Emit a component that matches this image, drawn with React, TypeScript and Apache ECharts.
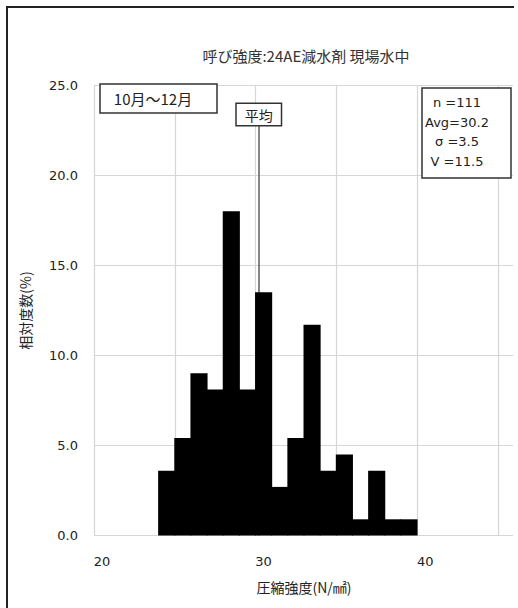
import React, { useEffect, useRef } from "react";
import * as echarts from "echarts";

// Histogram bins (compressive strength, N/mm2) and relative frequency (%)
const strengthBins = [
  "20", "21", "22", "23", "24", "25", "26", "27", "28", "29",
  "30", "31", "32", "33", "34", "35", "36", "37", "38", "39",
  "40", "41", "42", "43", "44", "45",
];
const relativeFreq = [
  null, null, null, null, 3.6, 5.41, 9.01, 8.11, 18.02, 8.11,
  13.51, 2.7, 5.41, 11.71, 3.6, 4.5, 0.9, 3.6, 0.9, 0.9,
  null, null, null, null, null, null,
];
const yMin = 0;
const yMax = 25;
const yStep = 5;

// statistics
const statN = 111;
const statAvg = 30.2;
const statSigma = 3.5;
const statV = 11.5;
const avgLineTop = 22.8;

const titleText = "呼び強度:24AE減水剤 現場水中";
const periodText = "10月〜12月";
const avgLabel = "平均";
const xName = "圧縮強度(N/㎟)";
const yName = "相対度数(%)";

const JP = "'Noto Sans CJK JP', sans-serif";
const NUM = "'DejaVu Sans', sans-serif";

export default function App() {
  const ref = useRef<HTMLDivElement>(null);
  useEffect(() => {
    if (!ref.current) return;
    const chart = echarts.init(ref.current, null, { renderer: "svg" });
    const statsText = [
      `n =${statN}`,
      `Avg=${statAvg.toFixed(1)}`,
      `σ =${statSigma.toFixed(1)}`,
      `V =${statV.toFixed(1)}`,
    ].join("\n");
    chart.setOption({
      animation: false,
      backgroundColor: "#fff",
      grid: { left: 94, right: 4, top: 85.5, bottom: 72.5 },
      xAxis: [
        {
          type: "category",
          data: strengthBins,
          boundaryGap: true,
          axisLine: { show: false },
          axisTick: { show: false },
          axisLabel: {
            interval: (i: number) => i % 10 === 0,
            margin: 19,
            color: "#222",
            fontSize: 13,
            fontFamily: NUM,
          },
          splitLine: {
            show: true,
            interval: (i: number) => i % 5 === 0,
            lineStyle: { color: "#d6d6d6", width: 1.2 },
          },
          name: xName,
          nameLocation: "middle",
          nameGap: 44,
          nameTextStyle: { color: "#222", fontSize: 14, fontFamily: JP },
        },
        {
          type: "value",
          min: 20,
          max: 46,
          show: false,
        },
      ],
      yAxis: {
        type: "value",
        min: yMin,
        max: yMax,
        interval: yStep,
        axisLine: { show: false },
        axisTick: { show: false },
        axisLabel: {
          formatter: (v: number) => v.toFixed(1),
          margin: 16,
          color: "#222",
          fontSize: 13,
          fontFamily: NUM,
        },
        splitLine: { lineStyle: { color: "#d6d6d6", width: 1.2 } },
        name: yName,
        nameLocation: "middle",
        nameGap: 62,
        nameTextStyle: { color: "#222", fontSize: 14, fontFamily: JP },
      },
      series: [
        {
          type: "bar",
          xAxisIndex: 0,
          data: relativeFreq,
          barWidth: "106%",
          itemStyle: { color: "#000" },
          z: 4,
        },
        {
          type: "line",
          xAxisIndex: 1,
          data: [],
          z: 2,
          markLine: {
            z: 2,
            silent: true,
            symbol: ["none", "none"],
            lineStyle: { color: "#666", width: 1.6, type: "solid" },
            label: {
              show: true,
              position: "end",
              distance: 0,
              formatter: avgLabel,
              color: "#222",
              fontSize: 14,
              fontFamily: JP,
              backgroundColor: "#fff",
              borderColor: "#333",
              borderWidth: 1.5,
              padding: [4, 8, 3, 8],
            },
            data: [[{ coord: [statAvg, 0] }, { coord: [statAvg, avgLineTop] }]],
          },
        },
      ],
      graphic: [
        {
          type: "rect",
          z: 99,
          shape: { x: 513, y: 80, width: 6, height: 460 },
          style: { fill: "#fff", stroke: null },
        },
        {
          type: "polyline",
          z: 100,
          shape: { points: [[7, 612], [7, 7], [514, 7]] },
          style: { stroke: "#222", lineWidth: 2, fill: null },
        },
        {
          type: "text",
          z: 100,
          x: 306,
          y: 55,
          style: {
            text: titleText,
            textAlign: "center",
            textVerticalAlign: "middle",
            fontSize: 15,
            fontFamily: JP,
            fill: "#333",
          },
        },
        {
          type: "rect",
          z: 100,
          shape: { x: 100, y: 84, width: 117, height: 29 },
          style: { fill: "#fff", stroke: "#333", lineWidth: 1.5 },
        },
        {
          type: "text",
          z: 101,
          x: 153,
          y: 98.5,
          style: {
            text: periodText,
            textAlign: "center",
            textVerticalAlign: "middle",
            fontSize: 15,
            fontFamily: JP,
            fill: "#222",
          },
        },
        {
          type: "rect",
          z: 100,
          shape: { x: 422, y: 88, width: 89, height: 90 },
          style: { fill: "#fff", stroke: "#333", lineWidth: 1.5 },
        },
        {
          type: "text",
          z: 101,
          x: 457,
          y: 93,
          style: {
            text: statsText,
            textAlign: "center",
            textVerticalAlign: "top",
            lineHeight: 19.5,
            fontSize: 13,
            fontFamily: NUM,
            fill: "#222",
          },
        },
      ],
    });
    return () => chart.dispose();
  }, []);
  return (
    <div
      ref={ref}
      style={{ position: "fixed", left: 0, top: 0, width: 518, height: 608 }}
    />
  );
}
